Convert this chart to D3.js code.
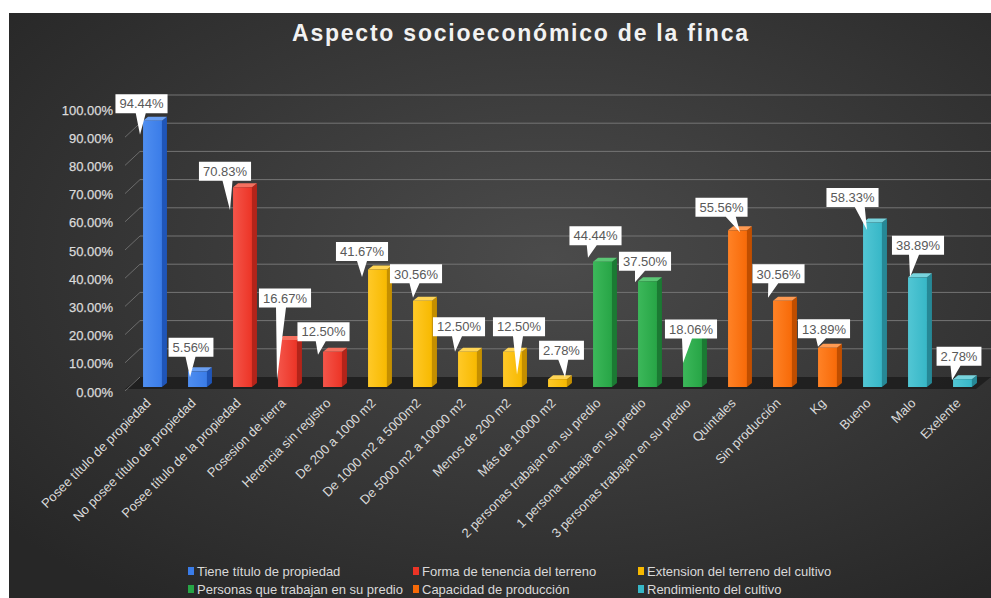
<!DOCTYPE html>
<html><head><meta charset="utf-8">
<script src="https://cdn.jsdelivr.net/npm/d3@7"></script>
<style>html,body{margin:0;padding:0;background:#fff;}svg{display:block;font-family:Arial,"Liberation Sans",sans-serif;}</style>
</head><body>
<svg id="chart" width="991" height="598"></svg>
<script>
const title = "Aspecto socioeconómico de la finca";
const categories = ["Posee título de propiedad","No posee título de propiedad","Posee título de la propiedad","Posesion de tierra","Herencia sin registro","De 200 a 1000 m2","De 1000 m2 a 5000m2","De 5000 m2 a 10000 m2","Menos de 200 m2","Más de 10000 m2","2 personas trabajan en su predio","1 persona trabaja en su predio","3 personas trabajan en su predio","Quintales","Sin producción","Kg","Bueno","Malo","Exelente"];
const values = [94.44,5.56,70.83,16.67,12.50,41.67,30.56,12.50,12.50,2.78,44.44,37.50,18.06,55.56,30.56,13.89,58.33,38.89,2.78];
const seriesNames = ["Tiene título de propiedad","Forma de tenencia del terreno","Extension del terreno del cultivo","Personas que trabajan en su predio","Capacidad de producción","Rendimiento del cultivo"];
const seriesOf = [0,0,1,1,1,2,2,2,2,2,3,3,3,4,4,4,5,5,5];
const yTicks = [0,10,20,30,40,50,60,70,80,90,100];

// layout: callout offsets [boxDx, boxDy, tipDx, tipDy] relative to bar centre / front top
const callouts = [[-11,-17,-12.5,14],[-6.5,-24,-7.5,6],[-17.5,-16,-12.5,23],[-2.5,-42,-10.5,40],[-9,-20,-14.5,3],[-15.5,-18,-15.5,7.5],[-6.5,-27,-9.5,-3],[-8.5,-25,-12.5,0],[6.5,-25,4.5,23],[4,-29,7.5,-2],[-7,-26,-14.5,-4],[-2.5,-20,-12.5,1],[-1.5,-7,-9.5,27],[-16,-23,2.5,2],[-4,-27,-14.5,-3],[-3.5,-19,-9.5,-1],[-20,-25,-5.5,7.5],[0.5,-32,-7.5,0],[-3.5,-23,-10.5,1]];
const colors = [
  {front:"#3a7ce8", light:"#4f8ef0", side:"#1f55b8", top:"#6a9ff2"},
  {front:"#ec3426", light:"#f4554a", side:"#b3241a", top:"#f4705f"},
  {front:"#f7b900", light:"#ffc928", side:"#c48f00", top:"#ffd556"},
  {front:"#27a546", light:"#3cb85a", side:"#1b7a33", top:"#5bc775"},
  {front:"#f76a08", light:"#ff8226", side:"#c04e00", top:"#ff9a52"},
  {front:"#37b7c7", light:"#52c6d4", side:"#268896", top:"#78d4de"}
];

const svg = d3.select("#chart");
const defs = svg.append("defs");
const bg = defs.append("radialGradient").attr("id","bg").attr("cx","55%").attr("cy","42%").attr("r","72%");
bg.append("stop").attr("offset","0%").attr("stop-color","#4b4b4b");
bg.append("stop").attr("offset","100%").attr("stop-color","#272727");
colors.forEach((c,i)=>{
  const g = defs.append("linearGradient").attr("id","fg"+i).attr("x1","0").attr("x2","1").attr("y1","0").attr("y2","0");
  g.append("stop").attr("offset","0%").attr("stop-color",c.light);
  g.append("stop").attr("offset","100%").attr("stop-color",c.front);
});

svg.append("rect").attr("x",9).attr("y",13).attr("width",982).attr("height",585).attr("fill","url(#bg)");

svg.append("text").attr("x",520).attr("y",41).attr("text-anchor","middle")
  .attr("font-size",23).attr("font-weight","bold").attr("fill","#f2f2f2")
  .attr("textLength",456).attr("lengthAdjust","spacing").text(title);

const x = d3.scaleBand().domain(categories).range([130,985]).paddingInner(0.58).paddingOuter(0.29);
const y = d3.scaleLinear().domain([0,100]).range([387,105]);
const DX = 15, DY = 10; // wall depth
const bdx = 5, bdy = 4; // bar depth

// floor
svg.append("polygon")
  .attr("points",[[125,y(0)+2],[976,y(0)+2],[991,y(0)-DY],[125+DX,y(0)-DY]].map(p=>p.join(",")).join(" "))
  .attr("fill","#1c1c1c").attr("opacity",0.85);

// gridlines & axis
const yAxis = svg.append("g");
yTicks.forEach(t=>{
  const yy = y(t);
  if (t>0) yAxis.append("line").attr("x1",125+DX).attr("x2",991).attr("y1",yy-DY).attr("y2",yy-DY)
    .attr("stroke","#747474").attr("stroke-width",1);
  yAxis.append("line").attr("x1",125).attr("y1",yy+4).attr("x2",125+DX).attr("y2",yy-DY)
    .attr("stroke","#6c6c6c").attr("stroke-width",1);
  yAxis.append("text").attr("x",113).attr("y",yy+5).attr("dy","0.35em").attr("text-anchor","end")
    .attr("font-size",13).attr("fill","#dadada").attr("stroke","#dadada").attr("stroke-width",0.25).text(d3.format(".2f")(t)+"%");
});

// bars
const bars = svg.append("g");
categories.forEach((c,i)=>{
  const v = values[i], col = colors[seriesOf[i]];
  const x0 = x(c), w = x.bandwidth(), yt = y(v), yb = y(0);
  const g = bars.append("g");
  g.append("polygon").attr("points",[[x0+w,yt],[x0+w+bdx,yt-bdy],[x0+w+bdx,yb-bdy],[x0+w,yb]].map(p=>p.join(",")).join(" ")).attr("fill",col.side);
  g.append("polygon").attr("points",[[x0,yt],[x0+bdx,yt-bdy],[x0+w+bdx,yt-bdy],[x0+w,yt]].map(p=>p.join(",")).join(" ")).attr("fill",col.top);
  g.append("rect").attr("x",x0).attr("y",yt).attr("width",w).attr("height",yb-yt).attr("fill","url(#fg"+seriesOf[i]+")");
});

// callouts
const lab = svg.append("g");
categories.forEach((c,i)=>{
  const v = values[i];
  const cx = x(c)+x.bandwidth()/2, yt = y(v);
  const [bx,by,tx,ty] = callouts[i];
  const bcx = cx+bx, bcy = yt+by;
  const txt = lab.append("text").attr("font-size",13).attr("fill","#595959").attr("text-anchor","middle")
    .attr("x",bcx).attr("y",bcy).attr("dy","0.36em").text(d3.format(".2f")(v)+"%");
  const tw = txt.node().getComputedTextLength();
  const bw = tw+8, bh = 19;
  const left = bcx-bw/2, right = bcx+bw/2, top = bcy-bh/2, bottom = bcy+bh/2;
  const px = cx+tx, py = yt+ty;
  let mid = (bcx+px)/2; mid = Math.max(left+6, Math.min(right-6, mid));
  const path = `M${left},${top}H${right}V${bottom}H${mid+5}L${px},${py}L${mid-5},${bottom}H${left}Z`;
  lab.insert("path","text").attr("d",path).attr("fill","#ffffff");
  txt.raise();
});

// x labels
const xl = svg.append("g");
categories.forEach((c)=>{
  const ax = x(c)+x.bandwidth()/2 - 1, ay = 404;
  xl.append("text").attr("transform",`translate(${ax},${ay}) rotate(-45)`).attr("text-anchor","end")
    .attr("font-size",13).attr("fill","#d9d9d9").text(c);
});

// legend
const legX = [188,413,638], legY = [571,589];
seriesNames.forEach((s,i)=>{
  const lx = legX[i%3], ly = legY[Math.floor(i/3)];
  const g = svg.append("g");
  g.append("rect").attr("x",lx).attr("y",ly-4).attr("width",6).attr("height",8).attr("fill",colors[i].front);
  g.append("text").attr("x",lx+9).attr("y",ly).attr("dy","0.35em").attr("font-size",13).attr("fill","#d9d9d9").text(s);
});
</script>
</body></html>
